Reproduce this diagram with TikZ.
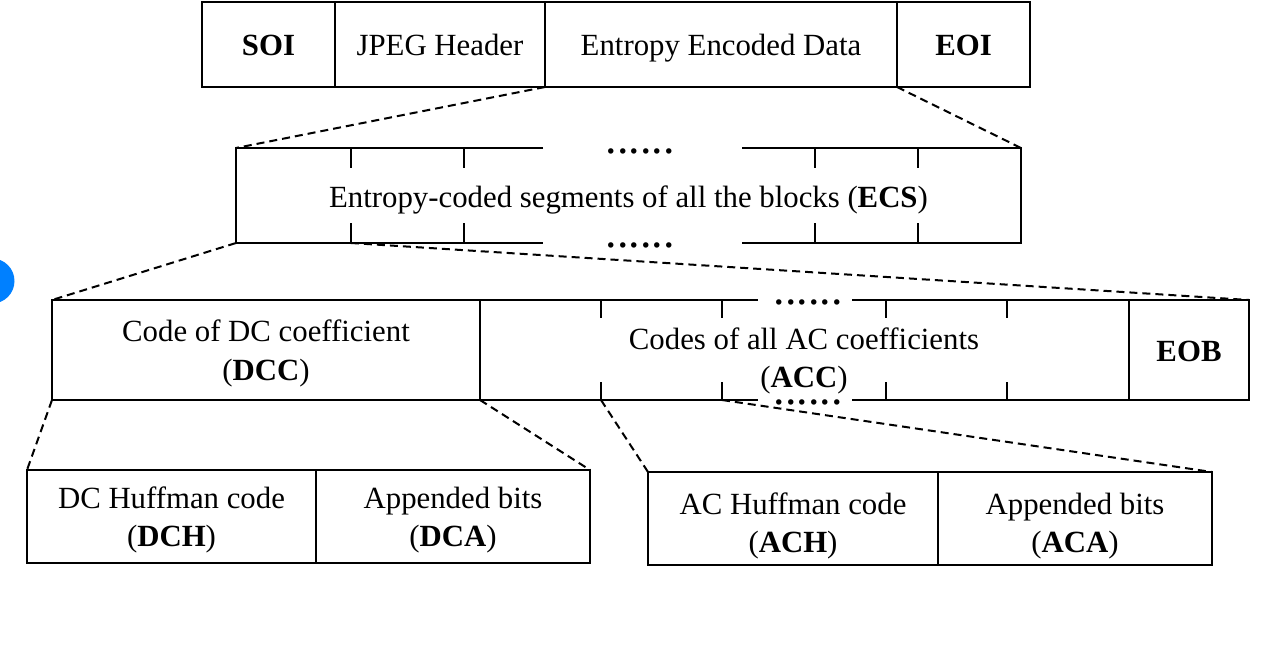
\documentclass[tikz,border=0pt]{standalone}
\usepackage{fontspec}
\setmainfont{Liberation Serif}
\newcommand\dgfont{\fontsize{30.8}{38.5}\selectfont}
\newcommand\dotfont{\fontsize{46}{46}\selectfont}
\newcommand\topstrut{\rule{0pt}{30pt}}
\newcommand\lowstrut{\rule{0pt}{38pt}}
\newcommand\botstrut{\rule[-8pt]{0pt}{8pt}}
\definecolor{dotblue}{RGB}{0,128,255}
\begin{document}
\begin{tikzpicture}[x=1pt,y=-1pt,
  struts/.style={execute at begin node={\rule{0pt}{30pt}}, execute at end node={\rule[-8pt]{0pt}{8pt}}},
  box/.style={draw, line width=2.5pt, inner sep=0pt, outer sep=0pt, align=center, font=\dgfont, struts},
  boxtwo/.style={draw, line width=2.5pt, inner sep=0pt, outer sep=0pt, align=center, font=\dgfont},
  area/.style={inner sep=0pt, outer sep=0pt, align=center, font=\dgfont, struts},
  areatwo/.style={inner sep=0pt, outer sep=0pt, align=center, font=\dgfont},
  solidline/.style={line width=2.5pt},
  zoomline/.style={line width=2pt, dash pattern=on 8pt off 5pt},
  dotrow/.style={inner sep=0pt, outer sep=0pt, anchor=base, font=\dotfont}]
\clip (0,0) rectangle (1265,648);
\fill[white] (0,0) rectangle (1265,648);
\fill[dotblue] (-8,281) circle (22.5);

% top row
\node[box, minimum width=133, minimum height=85] (soi) at (268.5,44.5) {\textbf{SOI}};
\node[box, minimum width=210, minimum height=85] (hdr) at (440,44.5) {JPEG Header};
\node[box, minimum width=352, minimum height=85] (eed) at (721,44.5) {Entropy Encoded Data};
\node[box, minimum width=133, minimum height=85] (eoi) at (963.5,44.5) {\textbf{EOI}};

% ECS row
\node[area, minimum width=785, minimum height=95] (ecs) at (628.5,196.5) {Entropy-coded segments of all the blocks (\textbf{ECS})};
\coordinate (ecsnw) at (236,148);
\coordinate (ecsne) at (1021,148);
\coordinate (ecssw) at (236,243);
\coordinate (ecsse) at (1021,243);
\draw[solidline] (543,148) -- (ecsnw) -- (ecssw) -- (543,243);
\draw[solidline] (742,148) -- (ecsne) -- (ecsse) -- (742,243);
\foreach \x in {351,464,815,918} {
  \draw[solidline] (\x,148) -- (\x,168);
  \draw[solidline] (\x,223) -- (\x,243);
}
\coordinate (ecsb) at (351,243);
\node[dotrow] (ecsdt) at (640,153.5) {......};
\node[dotrow] (ecsdb) at (640,247.5) {......};

% DCC / ACC / EOB row
\node[boxtwo, minimum width=428, minimum height=100] (dcc) at (266,350) {\topstrut Code of DC coefficient\\(\textbf{DCC})\botstrut};
\node[box, minimum width=120, minimum height=100] (eob) at (1189,350) {\textbf{EOB}};
\node[areatwo] (acc) at (804,357.5) {\topstrut Codes of all AC coefficients\\(\textbf{ACC})\botstrut};
\draw[solidline] (dcc.north east) -- (758,300);
\draw[solidline] (852,300) -- (eob.north west);
\draw[solidline] (dcc.south east) -- (758,400);
\draw[solidline] (852,400) -- (eob.south west);
\foreach \x in {601,722,886,1007} {
  \draw[solidline] (\x,300) -- (\x,318);
  \draw[solidline] (\x,382) -- (\x,400);
}
\coordinate (acct1) at (601,400);
\coordinate (acct2) at (722,400);
\node[dotrow] (accdt) at (808,304.5) {......};
\node[dotrow] (accdb) at (808,404.5) {......};

% bottom row
\node[boxtwo, minimum width=289, minimum height=93] (dch) at (171.5,516.5) {\topstrut DC Huffman code\\(\textbf{DCH})\botstrut};
\node[boxtwo, minimum width=274, minimum height=93] (dca) at (453,516.5) {\topstrut Appended bits\\(\textbf{DCA})\botstrut};
\node[boxtwo, minimum width=290, minimum height=93] (ach) at (793,518.5) {\lowstrut AC Huffman code\\(\textbf{ACH})\botstrut};
\node[boxtwo, minimum width=274, minimum height=93] (aca) at (1075,518.5) {\lowstrut Appended bits\\(\textbf{ACA})\botstrut};

% zoom connectors
\draw[zoomline] (eed.south west) -- (ecsnw);
\draw[zoomline] (eed.south east) -- (ecsne);
\draw[zoomline] (ecssw) -- (dcc.north west);
\draw[zoomline] (ecsb) -- (eob.north east);
\draw[zoomline] (dcc.south west) -- (dch.north west);
\draw[zoomline] (dcc.south east) -- (dca.north east);
\draw[zoomline] (acct1) -- (ach.north west);
\draw[zoomline] (acct2) -- (aca.north east);
\end{tikzpicture}
\end{document}
